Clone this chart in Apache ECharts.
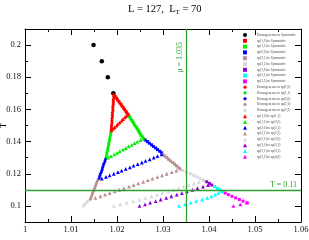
<!DOCTYPE html>
<html><head><meta charset="utf-8">
<script src="https://cdn.jsdelivr.net/npm/echarts@6/dist/echarts.min.js"></script>
<style>html,body{margin:0;padding:0;background:#fff}#c{width:309px;height:240px}</style>
</head><body><div id="c"></div>
<script>
// ---- tick values / labels ----
const xTicks = [1, 1.01, 1.02, 1.03, 1.04, 1.05, 1.06];
const xTickLabels = ['1', '1.01', '1.02', '1.03', '1.04', '1.05', '1.06'];
const yTicks = [0.1, 0.12, 0.14, 0.16, 0.18, 0.2];
const yTickLabels = ['0.1', '0.12', '0.14', '0.16', '0.18', '0.2'];
const muLine = 1.035;
const tLine = 0.11;

// ---- series data [mu, T] ----
const homSym = [[1.0149,0.200],[1.0167,0.190],[1.0180,0.180],[1.0192,0.170]];
const sp10Sym = [[1.0194,0.169],[1.0196,0.168],[1.0199,0.167],[1.0201,0.166],[1.0204,0.165],[1.0206,0.164],[1.0209,0.163],[1.0211,0.162],[1.0214,0.161],[1.0216,0.160],[1.0219,0.159],[1.0221,0.158],[1.0224,0.157]];
const sp11Sym = [[1.0226,0.156],[1.0228,0.155],[1.0230,0.154],[1.0233,0.153],[1.0235,0.152],[1.0237,0.151],[1.0239,0.150],[1.0242,0.149],[1.0244,0.148],[1.0246,0.147],[1.0248,0.146],[1.0250,0.145],[1.0252,0.144],[1.0255,0.143],[1.0257,0.142]];
const sp20Sym = [[1.0261,0.141],[1.0266,0.140],[1.0270,0.139],[1.0275,0.138],[1.0279,0.137],[1.0284,0.136],[1.0288,0.135],[1.0293,0.134],[1.0297,0.133]];
const sp21Sym = [[1.0300,0.132],[1.0304,0.131],[1.0308,0.130],[1.0312,0.129],[1.0316,0.128],[1.0321,0.127],[1.0325,0.126],[1.0329,0.125],[1.0333,0.124],[1.0337,0.123]];
const sp22Sym = [[1.0343,0.122],[1.0351,0.121],[1.0359,0.120],[1.0367,0.119],[1.0374,0.118],[1.0381,0.117],[1.0388,0.116]];
const sp30Sym = [[1.0395,0.115],[1.0401,0.114],[1.0406,0.113]];
const sp31Sym = [[1.0412,0.112],[1.0418,0.111],[1.0423,0.110],[1.0429,0.109]];
const sp32Sym = [[1.0435,0.108],[1.0442,0.107],[1.0450,0.106],[1.0458,0.105],[1.0466,0.104],[1.0474,0.103],[1.0483,0.102]];
const homSp10 = [[1.0193,0.169],[1.0193,0.168],[1.0193,0.167],[1.0192,0.166],[1.0192,0.165],[1.0192,0.164],[1.0192,0.163],[1.0191,0.162],[1.0191,0.161],[1.0191,0.160],[1.0191,0.159],[1.0190,0.158],[1.0190,0.157],[1.0190,0.156],[1.0190,0.155],[1.0189,0.154],[1.0189,0.153],[1.0189,0.152],[1.0189,0.151],[1.0188,0.150],[1.0188,0.149],[1.0188,0.148],[1.0187,0.147]];
const homSp11 = [[1.0187,0.146],[1.0186,0.145],[1.0186,0.144],[1.0185,0.143],[1.0184,0.142],[1.0184,0.141],[1.0183,0.140],[1.0182,0.139],[1.0182,0.138],[1.0181,0.137],[1.0180,0.136],[1.0180,0.135],[1.0179,0.134],[1.0178,0.133],[1.0178,0.132],[1.0177,0.131],[1.0176,0.130]];
const homSp20 = [[1.0175,0.129],[1.0174,0.128],[1.0173,0.127],[1.0171,0.126],[1.0170,0.125],[1.0169,0.124],[1.0168,0.123],[1.0167,0.122],[1.0166,0.121],[1.0164,0.120],[1.0163,0.119],[1.0162,0.118],[1.0161,0.117]];
const homSp21 = [[1.0158,0.116],[1.0157,0.115],[1.0155,0.114],[1.0154,0.113],[1.0153,0.112],[1.0151,0.111],[1.0150,0.110],[1.0149,0.109],[1.0147,0.108],[1.0146,0.107],[1.0145,0.106],[1.0143,0.105],[1.0142,0.104]];
const homSp22 = [[1.0137,0.103],[1.0134,0.102],[1.0130,0.101],[1.0127,0.100]];
const sp10Sp11 = [[1.0224,0.157],[1.0220,0.156],[1.0217,0.155],[1.0213,0.154],[1.0210,0.153],[1.0206,0.152],[1.0202,0.151],[1.0199,0.150],[1.0195,0.149],[1.0192,0.148],[1.0188,0.147]];
const sp11Sp20 = [[1.0257,0.142],[1.0251,0.141],[1.0244,0.140],[1.0238,0.139],[1.0232,0.138],[1.0225,0.137],[1.0219,0.136],[1.0213,0.135],[1.0206,0.134],[1.0200,0.133],[1.0194,0.132],[1.0187,0.131],[1.0181,0.130]];
const sp20Sp21 = [[1.0297,0.132],[1.0288,0.131],[1.0280,0.130],[1.0271,0.129],[1.0262,0.128],[1.0254,0.127],[1.0245,0.126],[1.0236,0.125],[1.0228,0.124],[1.0219,0.123],[1.0210,0.122],[1.0202,0.121],[1.0193,0.120],[1.0184,0.119],[1.0176,0.118],[1.0167,0.117]];
const sp21Sp22 = [[1.0329,0.122],[1.0319,0.121],[1.0308,0.120],[1.0298,0.119],[1.0288,0.118],[1.0277,0.117],[1.0267,0.116],[1.0257,0.115],[1.0246,0.114],[1.0236,0.113],[1.0226,0.112],[1.0215,0.111],[1.0205,0.110],[1.0195,0.109],[1.0184,0.108],[1.0174,0.107],[1.0164,0.106],[1.0153,0.105]];
const sp22Sp30 = [[1.0388,0.116],[1.0378,0.115],[1.0367,0.114],[1.0356,0.113],[1.0345,0.112],[1.0334,0.111],[1.0323,0.110],[1.0311,0.109],[1.0299,0.108],[1.0287,0.107],[1.0275,0.106],[1.0262,0.105],[1.0249,0.104],[1.0235,0.103],[1.0221,0.102],[1.0207,0.101],[1.0193,0.100]];
const sp30Sp31 = [[1.0398,0.113],[1.0387,0.112],[1.0375,0.111],[1.0364,0.110],[1.0352,0.109],[1.0341,0.108],[1.0330,0.107],[1.0318,0.106],[1.0307,0.105],[1.0295,0.104],[1.0284,0.103],[1.0272,0.102],[1.0261,0.101],[1.0249,0.100]];
const sp31Sp32 = [[1.0427,0.109],[1.0420,0.108],[1.0413,0.107],[1.0405,0.106],[1.0396,0.105],[1.0385,0.104],[1.0372,0.103],[1.0360,0.102],[1.0348,0.101],[1.0335,0.100]];
const sp32Sp40 = [[1.0482,0.102],[1.0468,0.101],[1.0453,0.100]];

const seriesNames = [
  'Homogeneous to Symmetric','sp(1,0) to Symmetric','sp(1,1) to Symmetric','sp(2,0) to Symmetric',
  'sp(2,1) to Symmetric','sp(2,2) to Symmetric','sp(3,0) to Symmetric','sp(3,1) to Symmetric','sp(3,2) to Symmetric',
  'Homogeneous to sp(1,0)','Homogeneous to sp(1,1)','Homogeneous to sp(2,0)','Homogeneous to sp(2,1)','Homogeneous to sp(2,2)',
  'sp(1,0) to sp(1,1)','sp(1,1) to sp(2,0)','sp(2,0) to sp(2,1)','sp(2,1) to sp(2,2)',
  'sp(2,2) to sp(3,0)','sp(3,0) to sp(3,1)','sp(3,1) to sp(3,2)','sp(3,2) to sp(4,0)'
];
const seriesData = [homSym, sp10Sym, sp11Sym, sp20Sym, sp21Sym, sp22Sym, sp30Sym, sp31Sym, sp32Sym,
  homSp10, homSp11, homSp20, homSp21, homSp22,
  sp10Sp11, sp11Sp20, sp20Sp21, sp21Sp22, sp22Sp30, sp30Sp31, sp31Sp32, sp32Sp40];

// ---- styles ----
const C = {black:'#000000', red:'#ff0000', green:'#00ee00', blue:'#0000ff', brown:'#bc8f8f', grey:'#d8d8d8', violet:'#9400d3', cyan:'#00ffff', magenta:'#ff00ff'};
const seriesColors = [C.black, C.red, C.green, C.blue, C.brown, C.grey, C.violet, C.cyan, C.magenta,
  C.red, C.green, C.blue, C.brown, C.grey,
  C.red, C.green, C.blue, C.brown, C.grey, C.violet, C.cyan, C.magenta];
const seriesSymbols = ['circle'].concat(Array(8).fill('rect'), Array(5).fill('diamond'), Array(8).fill('triangle'));
const symbolSizes = {circle:4.5, rect:3, diamond:3.6, triangle:3.8};
const refColor = '#2ca02c';
const serif = 'Liberation Serif, Times New Roman, serif';

function fmt(ticks, labels) {
  return function (v) {
    for (let i = 0; i < ticks.length; i++) if (Math.abs(v - ticks[i]) < 1e-7) return labels[i];
    return '';
  };
}

const axisLineStyle = {color:'#000', width:1};
const xBase = {type:'value', min:1, max:1.06, interval:0.01, splitLine:{show:false},
  axisLine:{show:true, onZero:false, lineStyle:axisLineStyle},
  axisTick:{show:true, inside:true, length:6, lineStyle:{color:'#000'}},
  minorTick:{show:true, splitNumber:2, length:3, lineStyle:{color:'#000'}}};
const yMinor = {type:'value', min:0.09, max:0.21, interval:0.01, splitLine:{show:false},
  axisLine:{show:true, onZero:false, lineStyle:axisLineStyle},
  axisTick:{show:true, inside:true, length:3, lineStyle:{color:'#000'}},
  axisLabel:{show:false}};
const yMajor = {type:'value', min:0.09, max:0.21, splitLine:{show:false},
  axisLine:{show:false},
  axisTick:{show:true, inside:true, length:6, customValues:yTicks, lineStyle:{color:'#000'}}};

const series = seriesData.map(function (d, i) {
  return {
    name: seriesNames[i], type:'scatter', data:d, xAxisIndex:0, yAxisIndex:0,
    symbol: seriesSymbols[i], symbolSize: symbolSizes[seriesSymbols[i]],
    itemStyle:{color: seriesColors[i], opacity:1}, silent:true
  };
});
series[0].markLine = {
  silent:true, symbol:['none','none'], animation:false, precision:6,
  lineStyle:{color:refColor, width:1.3, type:'solid'},
  label:{color:refColor, fontFamily:serif, fontSize:8},
  data:[
    {xAxis:muLine, label:{formatter:'μ = ' + muLine, position:'insideEndTop', distance:[13,2]}},
    {yAxis:tLine, label:{formatter:'T = ' + tLine, position:'insideEndTop', distance:[4,1]}}
  ]
};

const chart = echarts.init(document.getElementById('c'), null, {renderer:'canvas'});
chart.setOption({
  animation:false,
  backgroundColor:'#fff',
  title:{
    text:'L = 127,  L{s|T} = 70', left:123, top:-2,
    textStyle:{fontFamily:serif, fontSize:10.5, fontWeight:'normal', color:'#000',
      rich:{s:{fontFamily:serif, fontSize:7, padding:[6,0,0,0], color:'#000'}}}
  },
  grid:{left:25, right:8, top:29, bottom:18, containLabel:false, outerBoundsMode:'none'},
  legend:{
    orient:'vertical', left:243, top:33, padding:0, itemWidth:4, itemHeight:4, itemGap:1.8,
    data:seriesNames, selectedMode:false,
    textStyle:{fontFamily:serif, fontSize:3.4, lineHeight:4, color:'#444', padding:[0,0,0,5]}
  },
  xAxis:[
    Object.assign({}, xBase, {position:'bottom', name:'μ', nameLocation:'middle', nameGap:11,
      nameTextStyle:{fontFamily:serif, fontSize:9, color:'#000'},
      axisLabel:{show:true, margin:3, fontFamily:serif, fontSize:8.5, color:'#111', formatter:fmt(xTicks, xTickLabels)}}),
    Object.assign({}, xBase, {position:'top', axisLabel:{show:false}})
  ],
  yAxis:[
    Object.assign({}, yMinor, {position:'left', name:'T', nameLocation:'middle', nameGap:17, nameRotate:90,
      nameTextStyle:{fontFamily:serif, fontSize:9, color:'#000'}}),
    Object.assign({}, yMajor, {position:'left',
      axisLabel:{show:true, margin:4, customValues:yTicks, fontFamily:serif, fontSize:8.5, color:'#111', formatter:fmt(yTicks, yTickLabels)}}),
    Object.assign({}, yMinor, {position:'right'}),
    Object.assign({}, yMajor, {position:'right', axisLabel:{show:false}})
  ],
  series:series
});
</script>
</body></html>
